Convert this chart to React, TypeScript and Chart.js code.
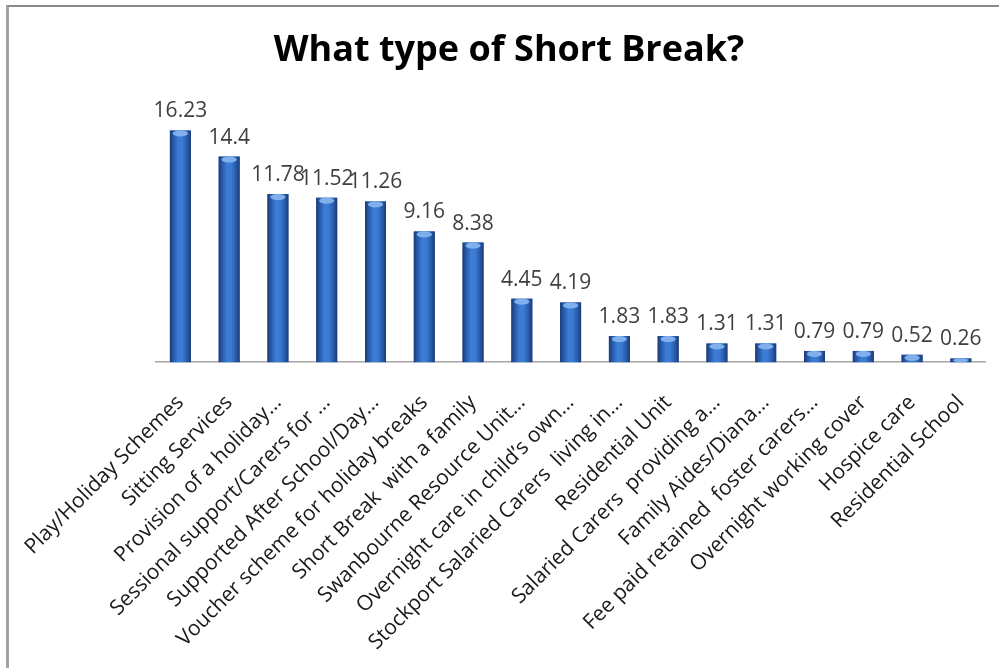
import React, { useEffect, useRef } from "react";
import { Chart, registerables } from "chart.js";

Chart.register(...registerables);

const chartTitle = "What type of Short Break?";

const categories = [
  "Play/Holiday Schemes",
  "Sitting Services",
  "Provision of a holiday…",
  "Sessional support/Carers for …",
  "Supported After School/Day…",
  "Voucher scheme for holiday breaks",
  "Short Break  with a family",
  "Swanbourne Resource Unit…",
  "Overnight care in child’s own…",
  "Stockport Salaried Carers  living in…",
  "Residential Unit",
  "Salaried Carers  providing a…",
  "Family Aides/Diana…",
  "Fee paid retained  foster carers…",
  "Overnight working cover",
  "Hospice care",
  "Residential School",
];

const values = [
  16.23, 14.4, 11.78, 11.52, 11.26, 9.16, 8.38, 4.45, 4.19, 1.83, 1.83, 1.31,
  1.31, 0.79, 0.79, 0.52, 0.26,
];

const yMin = 0;
const yMax = 18;

const cylinderBars = {
  id: "cylinderBars",
  afterDatasetsDraw(chart: any) {
    const ctx = chart.ctx as CanvasRenderingContext2D;
    const meta = chart.getDatasetMeta(0);
    ctx.save();
    meta.data.forEach((el: any, i: number) => {
      const { x, y, base, width } = el.getProps(["x", "y", "base", "width"], true);
      const l = x - width / 2;
      const r = x + width / 2;
      const g = ctx.createLinearGradient(l, 0, r, 0);
      g.addColorStop(0, "#1b3a6e");
      g.addColorStop(0.14, "#2654a4");
      g.addColorStop(0.4, "#3c7dd6");
      g.addColorStop(0.6, "#3a7bd2");
      g.addColorStop(0.86, "#2654a4");
      g.addColorStop(1, "#1b3a6e");
      ctx.fillStyle = g;
      ctx.fillRect(l, y, width, base - y);
      const capH = Math.min(3, (base - y) / 2);
      ctx.beginPath();
      ctx.ellipse(x, y + capH, width * 0.36, capH, 0, 0, Math.PI * 2);
      ctx.fillStyle = "#7fb0ec";
      ctx.fill();
      ctx.font = "21px 'Open Sans'";
      ctx.fillStyle = "#404040";
      ctx.textAlign = "center";
      ctx.textBaseline = "alphabetic";
      ctx.fillText(String(values[i]), x, y - 13);
    });
    ctx.restore();
  },
};

export default function App() {
  const canvasRef = useRef<HTMLCanvasElement | null>(null);

  useEffect(() => {
    if (!canvasRef.current) return;
    const chart = new Chart(canvasRef.current, {
      type: "bar",
      data: {
        labels: categories,
        datasets: [
          {
            data: values,
            backgroundColor: "#2f67b8",
            borderWidth: 0,
            barPercentage: 0.43,
            categoryPercentage: 1,
          },
        ],
      },
      options: {
        animation: false,
        responsive: false,
        maintainAspectRatio: false,
        layout: { padding: { left: 31, right: 12, top: 0, bottom: -7 } },
        plugins: {
          legend: { display: false },
          tooltip: { enabled: false },
          title: {
            display: true,
            text: chartTitle,
            color: "#000000",
            font: { family: "'Open Sans'", size: 36, weight: "bold" },
            padding: { top: 29, bottom: 33 },
          },
        },
        scales: {
          x: {
            grid: { display: false },
            border: { display: true, color: "#a6a6a6", width: 1.5 },
            ticks: {
              minRotation: 45,
              maxRotation: 45,
              autoSkip: false,
              color: "#1a1a1a",
              font: { family: "'Open Sans'", size: 21 },
              padding: 20,
            },
          },
          y: {
            display: true,
            min: yMin,
            max: yMax,
            grid: { display: false },
            border: { display: false },
            ticks: { display: false },
            afterFit: (scale: any) => {
              scale.width = 125;
            },
          },
        },
      },
      plugins: [cylinderBars],
    });
    return () => chart.destroy();
  }, []);

  return (
    <div style={{ position: "absolute", left: 0, top: 0, width: 999, height: 668, background: "#ffffff", overflow: "hidden" }}>
      <div
        style={{
          position: "absolute",
          left: 6,
          top: 5,
          right: 0,
          bottom: 0,
          borderLeft: "3px solid #a3a3a3",
          borderTop: "2px solid #8a8a8a",
        }}
      />
      <canvas ref={canvasRef} width={999} height={668} style={{ position: "absolute", left: 0, top: 0 }} />
    </div>
  );
}
